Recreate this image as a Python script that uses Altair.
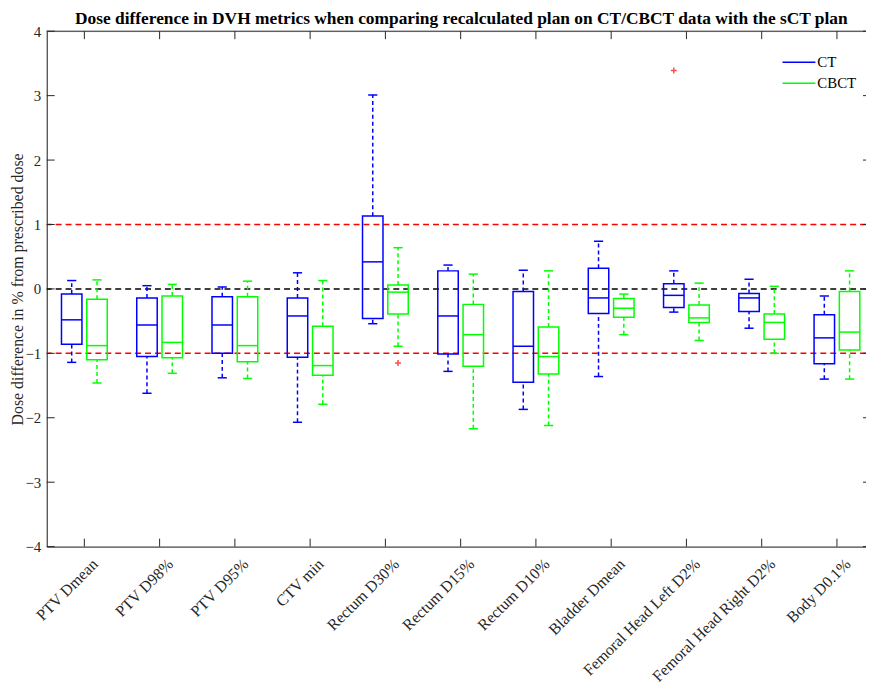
import json
import altair as alt
import pandas as pd

categories = ["PTV Dmean", "PTV D98%", "PTV D95%", "CTV min", "Rectum D30%",
              "Rectum D15%", "Rectum D10%", "Bladder Dmean",
              "Femoral Head Left D2%", "Femoral Head Right D2%", "Body D0.1%"]

series = ["CT", "CBCT"]
series_colors = ["#0000FF", "#00FF00"]

ct_lo = [-1.14, -1.62, -1.38, -2.07, -0.54, -1.28, -1.87, -1.36, -0.36, -0.61, -1.40]
ct_q1 = [-0.86, -1.05, -1.00, -1.06, -0.46, -1.01, -1.45, -0.38, -0.29, -0.35, -1.16]
ct_med = [-0.48, -0.56, -0.56, -0.42, 0.42, -0.42, -0.89, -0.14, -0.10, -0.14, -0.76]
ct_q3 = [-0.08, -0.14, -0.12, -0.14, 1.13, 0.28, -0.04, 0.32, 0.08, -0.07, -0.40]
ct_hi = [0.13, 0.05, 0.03, 0.25, 3.01, 0.37, 0.29, 0.74, 0.28, 0.15, -0.11]

cbct_lo = [-1.46, -1.31, -1.39, -1.79, -0.89, -2.17, -2.12, -0.71, -0.80, -1.00, -1.40]
cbct_q1 = [-1.10, -1.07, -1.13, -1.34, -0.39, -1.20, -1.32, -0.44, -0.52, -0.78, -0.95]
cbct_med = [-0.88, -0.83, -0.88, -1.19, -0.05, -0.71, -1.05, -0.30, -0.45, -0.52, -0.67]
cbct_q3 = [-0.16, -0.11, -0.12, -0.58, 0.06, -0.24, -0.59, -0.15, -0.25, -0.39, -0.04]
cbct_hi = [0.14, 0.07, 0.12, 0.13, 0.64, 0.23, 0.28, -0.08, 0.09, 0.04, 0.28]

outlier_series = ["CT", "CBCT"]
outlier_cat = ["Femoral Head Left D2%", "Rectum D30%"]
outlier_val = [3.39, -1.15]

ref_vals = [1, -1, 0]
ref_colors = ["#FF0000", "#FF0000", "#000000"]
y_ticks = [-4, -3, -2, -1, 0, 1, 2, 3, 4]

FONT = "Liberation Serif"
AX = "#262626"
W, H = 825, 519
OFF = 0.168
HALF = 0.136
CAP = 0.061

rows = []
for s, lo, q1, md, q3, hi in [("CT", ct_lo, ct_q1, ct_med, ct_q3, ct_hi),
                              ("CBCT", cbct_lo, cbct_q1, cbct_med, cbct_q3, cbct_hi)]:
    for i, c in enumerate(categories):
        rows.append(dict(series=s, cat=c, idx=i + 1, lo=lo[i], q1=q1[i],
                         med=md[i], q3=q3[i], hi=hi[i]))
df = pd.DataFrame(rows)

out_df = pd.DataFrame(dict(series=outlier_series, cat=outlier_cat, val=outlier_val))
out_df["idx"] = [categories.index(c) + 1 for c in outlier_cat]

ref_df = pd.DataFrame(dict(v=ref_vals, c=ref_colors))
tick_df = pd.DataFrame(dict(v=y_ticks))
cat_df = pd.DataFrame(dict(idx=list(range(1, len(categories) + 1))))

xs = alt.Scale(domain=[0.5, 11.386], nice=False, zero=False)
ys = alt.Scale(domain=[-4, 4], nice=False, zero=False)
cs = alt.Scale(domain=series, range=series_colors)

label_expr = json.dumps(categories) + "[datum.value - 1]"

legend = alt.Legend(
    title=None, orient="none", legendX=740, legendY=21, symbolType="stroke",
    symbolSize=1100, symbolStrokeWidth=1.5, labelFont=FONT, labelFontSize=15,
    labelColor="#000000", rowPadding=0, clipHeight=20.6, labelOffset=1, padding=0)
stroke_enc = alt.Stroke("series:N", scale=cs, legend=legend)

base = alt.Chart(df).transform_calculate(
    pos="datum.idx + (datum.series == 'CT' ? -%f : %f)" % (OFF, OFF),
    xl="datum.pos - %f" % HALF, xr="datum.pos + %f" % HALF,
    cl="datum.pos - %f" % CAP, cr="datum.pos + %f" % CAP,
)

x_axis = alt.Axis(values=list(range(1, 12)), labelExpr=label_expr, labelAngle=315,
                  labelAlign="right", labelBaseline="top", title=None, tickSize=0,
                  grid=False, labelFont=FONT, labelFontSize=16, labelColor=AX,
                  labelPadding=9, labelOffset=5, domainColor=AX, labelFlush=False,
                  labelOverlap=False, labelBound=False)
y_axis = alt.Axis(values=y_ticks, format="d", title="Dose difference in % from prescribed dose",
                  tickSize=0, grid=False, labelFont=FONT, labelFontSize=15, labelColor=AX,
                  labelPadding=6, domainColor=AX, titleFont=FONT, titleFontSize=16,
                  titleFontWeight="normal", titleColor=AX, titleX=-24,
                  titleBaseline="alphabetic")

refs = alt.Chart(ref_df).mark_rule(strokeDash=[6, 4], strokeWidth=1.5).encode(
    y=alt.Y("v:Q", scale=ys, axis=y_axis),
    color=alt.Color("c:N", scale=None, legend=None),
)

whisk_up = base.mark_rule(strokeDash=[4, 3], strokeWidth=1.5).encode(
    x=alt.X("pos:Q", scale=xs, axis=x_axis), y=alt.Y("q3:Q", scale=ys), y2="hi:Q",
    stroke=stroke_enc)
whisk_lo = base.mark_rule(strokeDash=[4, 3], strokeWidth=1.5).encode(
    x=alt.X("pos:Q", scale=xs), y=alt.Y("lo:Q", scale=ys), y2="q1:Q",
    stroke=stroke_enc)
cap_up = base.mark_rule(strokeWidth=1.5).encode(
    x=alt.X("cl:Q", scale=xs), x2="cr:Q", y=alt.Y("hi:Q", scale=ys),
    stroke=stroke_enc)
cap_lo = base.mark_rule(strokeWidth=1.5).encode(
    x=alt.X("cl:Q", scale=xs), x2="cr:Q", y=alt.Y("lo:Q", scale=ys),
    stroke=stroke_enc)
boxes = base.mark_rect(filled=False, strokeWidth=1.5).encode(
    x=alt.X("xl:Q", scale=xs), x2="xr:Q", y=alt.Y("q1:Q", scale=ys), y2="q3:Q",
    stroke=stroke_enc)
medians = base.mark_rule(strokeWidth=1.5).encode(
    x=alt.X("xl:Q", scale=xs), x2="xr:Q", y=alt.Y("med:Q", scale=ys),
    stroke=stroke_enc)

outliers = alt.Chart(out_df).transform_calculate(
    pos="datum.idx + (datum.series == 'CT' ? -%f : %f)" % (OFF, OFF)
).mark_point(shape="M-1,0L1,0M0,-1L0,1", size=36, filled=False, strokeWidth=1.5,
             color="#FF0000").encode(x=alt.X("pos:Q", scale=xs), y=alt.Y("val:Q", scale=ys))

ytick_l = alt.Chart(tick_df).mark_rule(color=AX, strokeWidth=1).encode(
    x=alt.value(0), x2=alt.value(8), y=alt.Y("v:Q", scale=ys))
ytick_r = alt.Chart(tick_df).mark_rule(color=AX, strokeWidth=1).encode(
    x=alt.value(W - 3), x2=alt.value(W), y=alt.Y("v:Q", scale=ys))
xtick_b = alt.Chart(cat_df).mark_rule(color=AX, strokeWidth=1).encode(
    x=alt.X("idx:Q", scale=xs), y=alt.value(H), y2=alt.value(H - 8))
xtick_t = alt.Chart(cat_df).mark_rule(color=AX, strokeWidth=1).encode(
    x=alt.X("idx:Q", scale=xs), y=alt.value(0), y2=alt.value(8))
top_line = alt.Chart(tick_df).transform_filter("datum.v == 4").mark_rule(
    color=AX, strokeWidth=1).encode(y=alt.Y("v:Q", scale=ys))

chart = alt.layer(
    refs, whisk_up, whisk_lo, cap_up, cap_lo, boxes, medians, outliers,
    ytick_l, ytick_r, xtick_b, xtick_t, top_line,
).resolve_scale(color="independent").properties(
    width=W, height=H,
    title=alt.TitleParams(
        "Dose difference in DVH metrics when comparing recalculated plan on CT/CBCT data with the sCT plan",
        font=FONT, fontSize=17.5, fontWeight="bold", anchor="middle", offset=-3, dx=5,
        color="#000000"),
    autosize=alt.AutoSizeParams(type="none"),
    padding={"left": 39, "top": 21, "right": 0, "bottom": 140},
).configure_view(stroke=None).configure(background="white")

chart.save("out.html", embed_options={"renderer": "svg", "actions": False})
